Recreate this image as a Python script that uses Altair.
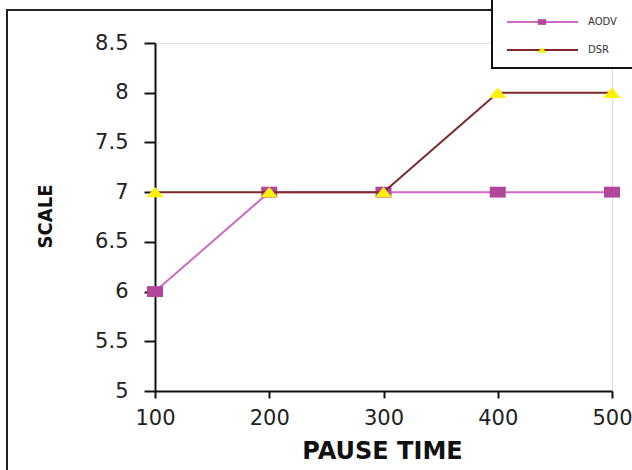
import altair as alt
import pandas as pd

pause_time = [100, 200, 300, 400, 500]
aodv = [6, 7, 7, 7, 7]
dsr = [7, 7, 7, 8, 8]
series_names = ["AODV", "DSR"]
line_colors = ["#CF6BC0", "#7E2A2A"]
marker_colors = ["#B2469C", "#FFF200"]
marker_shapes = ["M -1 -0.68 L 1 -0.68 L 1 0.68 L -1 0.68 Z",
                 "M -1 0.6 L 1 0.6 L 0 -0.6 Z"]
marker_sizes = [256, 300]
legend_marker_sizes = [70, 90]

frames = []
for name, vals in zip(series_names, [aodv, dsr]):
    frames.append(pd.DataFrame({"pause": pause_time, "scale": vals, "series": name}))
df = pd.concat(frames, ignore_index=True)

one = pd.DataFrame({"k": [0]})

x_enc = alt.X("pause:Q", scale=alt.Scale(domain=[100, 500], nice=False),
              axis=alt.Axis(values=pause_time, title="PAUSE TIME", grid=False, labelFlush=False,
                            domainColor="#111", domainWidth=2, tickColor="#111",
                            tickWidth=2, tickSize=7, labelPadding=9,
                            labelFont="DejaVu Sans", labelFontSize=21, labelColor="#222",
                            titleFont="DejaVu Sans", titleFontSize=24, titleFontWeight="bold",
                            titleColor="#111", titleX=227, titleY=60, titleBaseline="middle",
                            titleAlign="center"))
y_enc = alt.Y("scale:Q", scale=alt.Scale(domain=[5, 8.5], nice=False, zero=False),
              axis=alt.Axis(values=[5, 5.5, 6, 6.5, 7, 7.5, 8, 8.5], format="~g", title="SCALE",
                            grid=False, domainColor="#111", domainWidth=2, tickColor="#111",
                            tickWidth=2, tickSize=11, labelPadding=16, labelFlush=False,
                            labelFont="DejaVu Sans", labelFontSize=21, labelColor="#222",
                            titleFont="'DejaVu Sans Condensed', 'Liberation Sans'", titleFontSize=20,
                            titleFontWeight="bold", titleColor="#111", titleAngle=-90,
                            titleX=-110, titleY=173, titleBaseline="middle", titleAlign="center"))

frame = alt.Chart(one).mark_rect(fillOpacity=0, stroke="#222", strokeWidth=2).encode(
    x=alt.value(-148), y=alt.value(-33), x2=alt.value(700), y2=alt.value(700))

layers = [frame]
for i, name in enumerate(series_names):
    sub = df[df.series == name]
    base = alt.Chart(sub)
    layers.append(base.mark_line(color=line_colors[i], strokeWidth=2).encode(x=x_enc, y=y_enc))
    layers.append(base.mark_point(shape=marker_shapes[i], filled=True, opacity=1,
                                  color=marker_colors[i], size=marker_sizes[i]).encode(x=x_enc, y=y_enc))

# legend
legend_box = alt.Chart(one).mark_rect(fill="white", stroke="#111", strokeWidth=2).encode(
    x=alt.value(337), y=alt.value(-60), x2=alt.value(700), y2=alt.value(25))
layers.append(legend_box)
leg_y = [-21, 7]
for i, name in enumerate(series_names):
    d = pd.DataFrame({"series": [name]})
    layers.append(alt.Chart(d).mark_rule(color=line_colors[i], strokeWidth=2).encode(
        x=alt.value(352), x2=alt.value(423), y=alt.value(leg_y[i])))
    layers.append(alt.Chart(d).mark_point(shape=marker_shapes[i], filled=True, opacity=1,
                                          color=marker_colors[i], size=legend_marker_sizes[i]).encode(
        x=alt.value(387), y=alt.value(leg_y[i])))
    layers.append(alt.Chart(d).mark_text(align="left", baseline="middle", font="DejaVu Sans",
                                         fontSize=10, color="#333").encode(
        x=alt.value(433), y=alt.value(leg_y[i]), text="series:N"))

chart = alt.layer(*layers).properties(
    width=457, height=348,
    autosize=alt.AutoSizeParams(type="none"),
    padding={"left": 155, "top": 43, "right": 20, "bottom": 79},
).configure_view(stroke="#a0a0a0", strokeWidth=1.5).configure(background="white")

chart.save("out.html", embed_options={"renderer": "svg", "actions": False})
